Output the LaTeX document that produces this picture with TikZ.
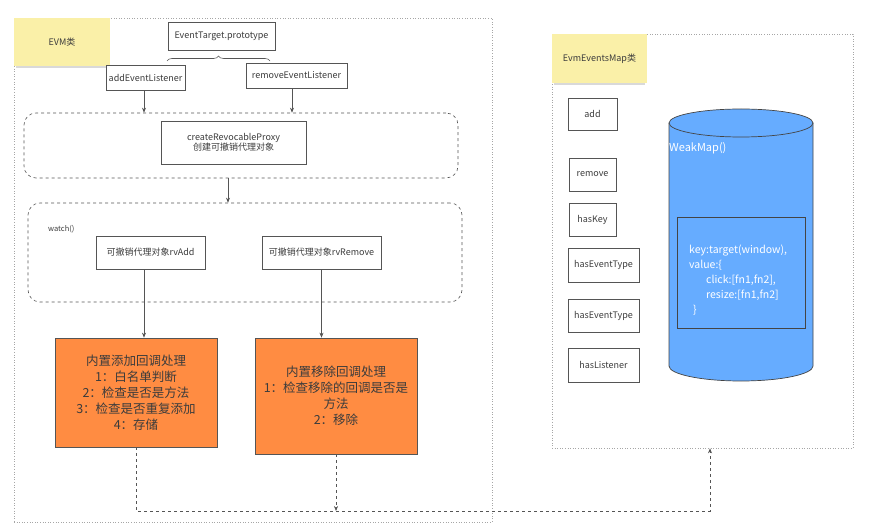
\documentclass[tikz,border=0pt]{standalone}
\usepackage{fontspec}
\setmainfont{Noto Sans CJK SC}
\usetikzlibrary{decorations.pathreplacing,shadows,arrows.meta}
\definecolor{notey}{RGB}{250,240,168}
\definecolor{orng}{RGB}{255,140,66}
\definecolor{cylb}{RGB}{102,172,255}
\definecolor{txt}{RGB}{60,60,60}
\definecolor{edge}{RGB}{85,85,85}
\tikzset{
  box/.style={draw=edge,line width=0.7pt,fill=white,inner sep=0pt,text=txt,font=\fontsize{9}{10.5}\selectfont,align=center},
  frame/.style={draw=gray!70,dotted,line width=0.6pt,inner sep=0pt},
  note/.style={fill=notey,inner sep=0pt,text=txt,font=\fontsize{9}{10.5}\selectfont,drop shadow={shadow xshift=0pt,shadow yshift=-3pt,opacity=.3,shadow scale=0.95}},
  group/.style={draw=edge,dashed,line width=0.6pt,rounded corners=12pt,inner sep=0pt},
  orbox/.style={draw=edge,line width=0.7pt,fill=orng,inner sep=0pt,text=txt,align=center,font=\fontsize{12.5}{16}\selectfont},
  conn/.style={draw=edge,line width=0.6pt,-{Stealth[length=5pt,width=4pt]}},
  dconn/.style={draw=edge,dashed,line width=0.6pt,-{Stealth[length=5pt,width=4pt]}},
}
\begin{document}
\begin{tikzpicture}[x=1pt,y=1pt]
\useasboundingbox (0,0) rectangle (875,-529);
% EVM frame
\node[frame,minimum width=478,minimum height=504] (evm) at (253,-270) {};
\node[note,minimum width=96,minimum height=48] (evmnote) at (62,-42) {EVM类};
\node[box,minimum width=107,minimum height=28] (etp) at (221.5,-36) {EventTarget.prototype};
\draw[edge,line width=0.6pt,decorate,decoration={brace,amplitude=5pt}] (167,-61) -- (270,-61);
\node[box,minimum width=79,minimum height=25] (add) at (145.5,-77.5) {addEventListener};
\node[box,minimum width=101,minimum height=25] (rem) at (296.5,-75.5) {removeEventListener};
\node[group,minimum width=434,minimum height=65] (g1) at (241,-145.5) {};
\node[box,minimum width=145,minimum height=43] (crp) at (233.5,-142.5) {createRevocableProxy\\创建可撤销代理对象};
\node[group,minimum width=434,minimum height=99] (g2) at (245,-252.5) {};
\node[anchor=west,inner sep=0pt,text=txt,font=\fontsize{7.5}{8}\selectfont] (watch) at (48,-229) {watch()};
\node[box,minimum width=109,minimum height=33] (rvadd) at (150.5,-252.5) {可撤销代理对象rvAdd};
\node[box,minimum width=119,minimum height=33] (rvrem) at (321.5,-252.5) {可撤销代理对象rvRemove};
\node[orbox,minimum width=162,minimum height=109] (or1) at (136,-392.5) {内置添加回调处理\\1：白名单判断\\2：检查是否是方法\\3：检查是否重复添加\\4：存储};
\node[orbox,minimum width=162,minimum height=116] (or2) at (336,-396) {内置移除回调处理\\1：检查移除的回调是否是\\方法\\2：移除};
% connectors in EVM
\draw[conn] ([xshift=-1.5pt]add.south) -- ([xshift=-1.5pt]add.south |- g1.north);
\draw[conn] ([xshift=-4.5pt]rem.south) -- ([xshift=-4.5pt]rem.south |- g1.north);
\draw[conn] ([xshift=-13pt]g1.south) -- ([xshift=-13pt]g1.south |- g2.north);
\draw[conn] ([xshift=-6.5pt]rvadd.south) -- ([xshift=-6.5pt]rvadd.south |- or1.north);
\draw[conn] (rvrem.south) -- (rvrem.south |- or2.north);
% EvmEventsMap frame
\node[frame,minimum width=301,minimum height=414] (map) at (702.5,-241) {};
\node[note,minimum width=95,minimum height=49] (mapnote) at (599.5,-58.5) {EvmEventsMap类};
\node[box,minimum width=49,minimum height=32] (madd) at (592.5,-114) {add};
\node[box,minimum width=47,minimum height=33] (mrem) at (592.5,-174.5) {remove};
\node[box,minimum width=47,minimum height=33] (mkey) at (592.5,-219.5) {hasKey};
\node[box,minimum width=71,minimum height=34] (met1) at (603.5,-265) {hasEventType};
\node[box,minimum width=71,minimum height=33] (met2) at (603.5,-315.5) {hasEventType};
\node[box,minimum width=71,minimum height=34] (mlis) at (603.5,-365) {hasListener};
% cylinder
\fill[cylb] (669,-123) -- (669,-366) arc[start angle=180,end angle=360,x radius=72pt,y radius=15pt] -- (813,-123) -- cycle;
\draw[edge!80!black,line width=0.7pt] (669,-123) -- (669,-366) arc[start angle=180,end angle=360,x radius=72pt,y radius=15pt] -- (813,-123);
\filldraw[fill=cylb,draw=edge!80!black,line width=0.7pt] (741,-123) ellipse[x radius=72pt,y radius=14pt];
\node[anchor=west,inner sep=0pt,text=white,font=\fontsize{11}{13}\selectfont] (wm) at (669,-148) {WeakMap()};
\node[draw=edge!80!black,line width=0.7pt,fill=cylb,minimum width=128,minimum height=111,inner sep=0pt] (inner) at (741,-272.5) {};
\node[anchor=north west,inner sep=0pt,text=white,align=left,font=\fontsize{10.5}{15}\selectfont] (kv) at (689,-245) {key:target(window),\\value:\{\\\hspace*{17pt}click:[fn1,fn2],\\\hspace*{17pt}resize:[fn1,fn2]\\\hspace*{4pt}\}};
% dashed connectors
\coordinate (bus) at (136,-511);
\draw[dconn] (or1.south) -- (bus) -| ([xshift=7.5pt]map.south);
\draw[dconn] (or2.south) -- (or2.south |- bus);
\end{tikzpicture}
\end{document}
